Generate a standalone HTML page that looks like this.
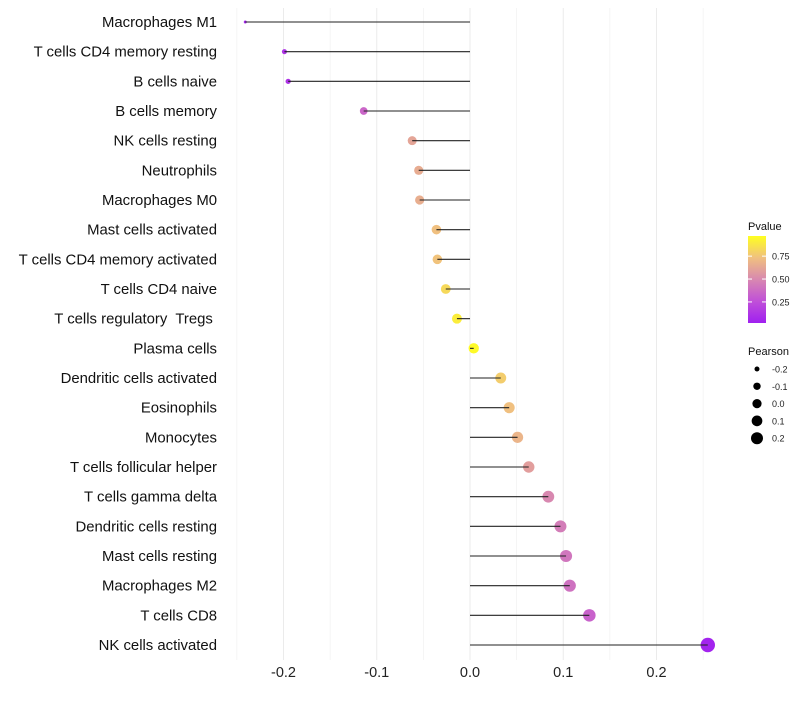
<!DOCTYPE html>
<html><head><meta charset="utf-8"><style>
body{margin:0;background:#fff;font-family:"Liberation Sans",sans-serif}
text{white-space:pre}
</style></head><body>
<svg id="chart" width="800" height="700" xmlns="http://www.w3.org/2000/svg"></svg>
<script>
const categories=["Macrophages M1","T cells CD4 memory resting","B cells naive","B cells memory","NK cells resting","Neutrophils","Macrophages M0","Mast cells activated","T cells CD4 memory activated","T cells CD4 naive","T cells regulatory  Tregs ","Plasma cells","Dendritic cells activated","Eosinophils","Monocytes","T cells follicular helper","T cells gamma delta","Dendritic cells resting","Mast cells resting","Macrophages M2","T cells CD8","NK cells activated"];
const pearson=[-0.241,-0.199,-0.195,-0.114,-0.062,-0.055,-0.054,-0.036,-0.035,-0.026,-0.014,0.004,0.033,0.042,0.051,0.063,0.084,0.097,0.103,0.107,0.128,0.255];
const pvalues=[0.03,0.1,0.1,0.35,0.63,0.66,0.67,0.75,0.76,0.85,0.93,0.98,0.8,0.75,0.7,0.6,0.5,0.45,0.42,0.4,0.33,0.02];
const xTicks=[-0.2,-0.1,0.0,0.1,0.2];
const xTickLabels=["-0.2","-0.1","0.0","0.1","0.2"];
const pTicks=[0.25,0.5,0.75];
const sizeTicks=[-0.2,-0.1,0.0,0.1,0.2];

const svg=document.getElementById('chart');
const NS="http://www.w3.org/2000/svg";
const x=v=>470+v*932.5;
const y=i=>22+i*29.667;
const r=v=>Math.sqrt(Math.max(1.5,2.25+(v+0.241)*100));
const rLeg=v=>Math.sqrt(Math.max(1,6.25+(v+0.2)*74.4));
const stops=[[0,[160,32,240]],[0.25,[192,80,216]],[0.5,[216,136,176]],[0.75,[240,192,128]],[1,[255,255,32]]];
function col(p){p=Math.max(0,Math.min(1,p));for(let k=1;k<stops.length;k++){if(p<=stops[k][0]){const [a,c1]=stops[k-1],[b,c2]=stops[k];const t=(p-a)/(b-a);return 'rgb('+c1.map((c,j)=>Math.round(c+(c2[j]-c)*t)).join(',')+')';}}}
function el(tag,at,parent){const e=document.createElementNS(NS,tag);for(const k in at)e.setAttribute(k,at[k]);(parent||svg).appendChild(e);return e;}
for(let v=-0.25;v<=0.26;v+=0.05){const g=el('line',{x1:x(v),x2:x(v),y1:8,y2:660,stroke:'#ebebeb','stroke-width':Math.abs(Math.round(v*100))%10===0?1:0.5});

}
xTicks.forEach((v,i)=>{const t=el('text',{x:x(v),y:677,'text-anchor':'middle','font-size':14.5,fill:'#222'});t.textContent=xTickLabels[i];

});
categories.forEach((c,i)=>{
const t=el('text',{x:217,y:y(i)+5,'text-anchor':'end','font-size':14.9,fill:'#111'});t.textContent=c;


const d=el('circle',{cx:x(pearson[i]),cy:y(i),r:r(pearson[i]),fill:col(pvalues[i])});


const l=el('line',{x1:x(0),x2:x(pearson[i]),y1:y(i),y2:y(i),stroke:'#222','stroke-width':1.1});


});
const defs=el('defs',{});const lg=el('linearGradient',{id:'pg',x1:0,y1:1,x2:0,y2:0},defs);
stops.forEach(s=>el('stop',{offset:s[0],'stop-color':col(s[0])},lg));
const lt=el('text',{x:748,y:230,'font-size':11,fill:'#111'});lt.textContent='Pvalue';


const bar=el('rect',{x:748,y:236,width:18,height:87,fill:'url(#pg)'});


const py=p=>323-(p-0.02)/0.95*87;
pTicks.forEach(p=>{el('line',{x1:748,x2:752,y1:py(p),y2:py(p),stroke:'#fff'});el('line',{x1:762,x2:766,y1:py(p),y2:py(p),stroke:'#fff'});
const t=el('text',{x:772,y:py(p)+3.5,'font-size':9,fill:'#222'});t.textContent=p.toFixed(2);

});
const st=el('text',{x:748,y:355,'font-size':11,fill:'#111'});st.textContent='Pearson';


sizeTicks.forEach((v,i)=>{const cy=369+i*17.3;const c=el('circle',{cx:757,cy:cy,r:rLeg(v),fill:'#000'});


const t=el('text',{x:772,y:cy+3.5,'font-size':9,fill:'#222'});t.textContent=v.toFixed(1);

});
</script>
</body></html>
